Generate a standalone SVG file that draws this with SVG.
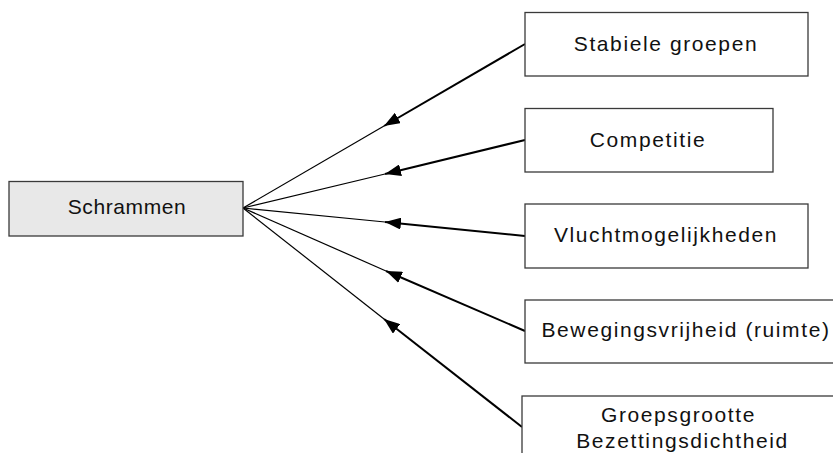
<svg xmlns="http://www.w3.org/2000/svg" width="833" height="453" viewBox="0 0 833 453">
<defs>
<marker id="ah" markerUnits="userSpaceOnUse" markerWidth="18" markerHeight="12" refX="16" refY="6" orient="auto" viewBox="0 0 18 12">
<path d="M0,0 L16,6 L0,12 Z" fill="#000"/>
</marker>
<style>
.box{fill:#fff;stroke:#3a3a3a;stroke-width:1.3}
.main{fill:#e8e8e8;stroke:#3a3a3a;stroke-width:1.3}
.t{font-family:"Liberation Sans",Arial,sans-serif;font-size:21px;letter-spacing:1.6px;fill:#111;text-anchor:middle}
.outer{stroke:#000;stroke-width:2;fill:none}
.inner{stroke:#000;stroke-width:1.2;fill:none}
</style>
</defs>
<rect width="833" height="453" fill="#fff"/>
<g id="connectors">
<path class="outer" d="M525,44 L384,126" marker-end="url(#ah)"/>
<path class="inner" d="M384,126 L243,208"/>
<path class="outer" d="M525,140 L385,174" marker-end="url(#ah)"/>
<path class="inner" d="M385,174 L243,208"/>
<path class="outer" d="M525,236 L385,222" marker-end="url(#ah)"/>
<path class="inner" d="M385,222 L243,208"/>
<path class="outer" d="M525,331 L386,271" marker-end="url(#ah)"/>
<path class="inner" d="M386,271 L243,208"/>
<path class="outer" d="M522,427 L384,319" marker-end="url(#ah)"/>
<path class="inner" d="M384,319 L243,208"/>
</g>
<g id="schrammen">
<rect class="main" x="9" y="181.5" width="234" height="54.5"/>
<text class="t" x="127" y="214" style="letter-spacing:0.6px">Schrammen</text>
</g>
<g id="stabiele">
<rect class="box" x="525" y="12.5" width="283" height="63.5"/>
<text class="t" x="666" y="51">Stabiele groepen</text>
</g>
<g id="competitie">
<rect class="box" x="525" y="108.5" width="248" height="63.5"/>
<text class="t" x="648" y="147">Competitie</text>
</g>
<g id="vlucht">
<rect class="box" x="525" y="204" width="283" height="64"/>
<text class="t" x="666" y="242">Vluchtmogelijkheden</text>
</g>
<g id="beweging">
<rect class="box" x="525" y="300" width="320" height="63"/>
<text class="t" x="686" y="337">Bewegingsvrijheid (ruimte)</text>
</g>
<g id="groeps">
<rect class="box" x="522" y="396" width="320" height="70"/>
<text class="t" x="678.5" y="422">Groepsgrootte</text>
<text class="t" x="682.5" y="448">Bezettingsdichtheid</text>
</g>
</svg>
